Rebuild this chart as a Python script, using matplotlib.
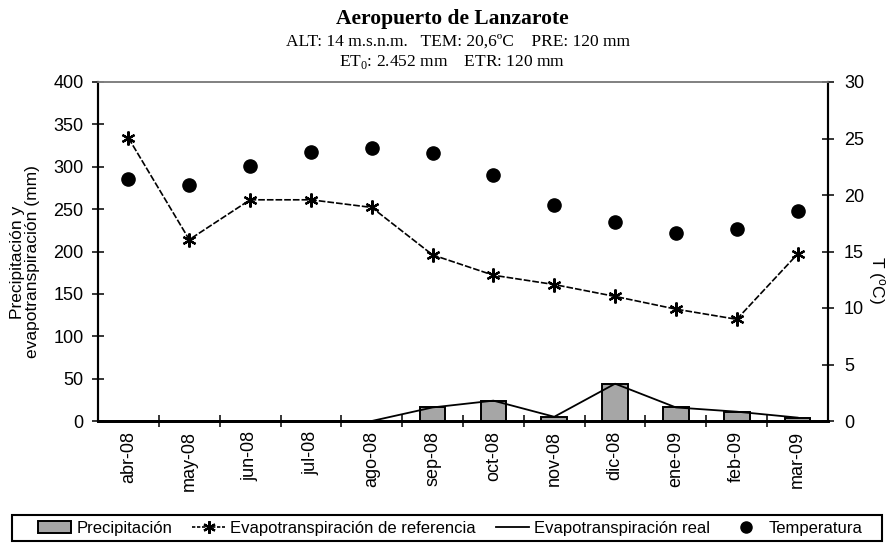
import matplotlib
matplotlib.use("Agg")
import matplotlib.pyplot as plt
from matplotlib.lines import Line2D
from matplotlib.patches import Patch, Rectangle
import numpy as np

months = ["abr-08", "may-08", "jun-08", "jul-08", "ago-08", "sep-08",
          "oct-08", "nov-08", "dic-08", "ene-09", "feb-09", "mar-09"]
precip = [0, 0, 0, 0, 0, 16, 24, 5, 44, 16, 11, 4]
et0 = [334, 214, 261, 261, 252, 196, 172, 161, 147, 132, 120, 197]
etr = [0, 0, 0, 0, 0, 16, 24, 5, 44, 16, 11, 4]
temp = [21.4, 20.9, 22.6, 23.8, 24.2, 23.7, 21.8, 19.1, 17.6, 16.6, 17.0, 18.6]

yticks_left = [0, 50, 100, 150, 200, 250, 300, 350, 400]
yticks_right = [0, 5, 10, 15, 20, 25, 30]

plt.rcParams['font.family'] = ['Liberation Sans', 'DejaVu Sans']

W, H = 891, 544
fig = plt.figure(figsize=(W / 100, H / 100), dpi=100)
ax = fig.add_axes([98 / W, 1 - 421 / H, (828 - 98) / W, (421 - 82) / H])
ax2 = ax.twinx()

x = np.arange(len(months))
ax.bar(x, precip, width=0.42, color='#a6a6a6', edgecolor='black', linewidth=1.4, zorder=2)
ax.plot(x, etr, color='black', linewidth=1.3, zorder=3)
ax.plot(x, et0, color='black', linewidth=1.2, dashes=(4, 1.2), marker=(6, 2, 0),
        markersize=10, markeredgewidth=1.6, markeredgecolor='black', zorder=4)
ax2.plot(x, temp, linestyle='none', marker='o', markersize=9.5, color='black', zorder=5)

ax.set_xlim(-0.5, len(months) - 0.5)
ax.set_ylim(0, 400)
ax2.set_ylim(0, 30)
ax.set_yticks(yticks_left)
ax2.set_yticks(yticks_right)

ax.set_xticks(np.arange(0.5, len(months) - 1, 1.0))
ax.set_xticklabels([])
ax.set_xticks(x, minor=True)
ax.set_xticklabels(months, minor=True, rotation=90, fontsize=13)
ax.tick_params(axis='x', which='major', direction='inout', length=9, width=1.1)
ax.tick_params(axis='x', which='minor', length=0, pad=7)
ax.tick_params(axis='y', direction='inout', length=9, width=1.1, labelsize=13, pad=6)
ax2.tick_params(axis='y', direction='inout', length=9, width=1.1, labelsize=13, pad=7)

for a in (ax, ax2):
    a.spines['top'].set_color('#808080')
    a.spines['top'].set_linewidth(1.2)
    a.spines['left'].set_linewidth(1.5)
    a.spines['right'].set_linewidth(1.5)
    a.spines['bottom'].set_linewidth(2.0)

fig.text(25 / W, 1 - 262 / H, "Precipitación y\nevapotranspiración (mm)", rotation=90,
         ha='center', va='center', fontsize=12.5, linespacing=1.0)
fig.text(877 / W, 1 - 280 / H, r"T ($\mathregular{^o}$C)", rotation=-90,
         ha='center', va='center', fontsize=12.5)

serif = ['Liberation Serif', 'DejaVu Serif']
fig.text(452 / W, 1 - 19 / H, "Aeropuerto de Lanzarote", ha='center', va='center',
         fontsize=15.5, fontweight='bold', family=serif)
fig.text(458 / W, 1 - 42 / H, "ALT: 14 m.s.n.m.   TEM: 20,6ºC    PRE: 120 mm", ha='center', va='center',
         fontsize=12.5, family=serif)
fig.text(452 / W, 1 - 62 / H, r"ET$_\mathregular{0}$: 2.452 mm    ETR: 120 mm", ha='center', va='center',
         fontsize=12.5, family=serif)

fig.add_artist(Rectangle((12 / W, 1 - 541 / H), (882 - 12) / W, 26 / H,
                         transform=fig.transFigure, facecolor='none',
                         edgecolor='black', linewidth=1.5))
handles = [
    Patch(facecolor='#a6a6a6', edgecolor='black', linewidth=1.4),
    Line2D([], [], color='black', linewidth=1.2, dashes=(2, 1), marker=(6, 2, 0),
           markersize=9, markeredgewidth=1.6),
    Line2D([], [], color='black', linewidth=1.3),
    Line2D([], [], linestyle='none', marker='o', markersize=8, color='black'),
]
labels = ["Precipitación", "Evapotranspiración de referencia", "Evapotranspiración real", "Temperatura"]
leg = fig.legend(handles, labels, loc='center left', ncol=4, mode='expand',
                 bbox_to_anchor=(38 / W, 1 - 541 / H, (862 - 38) / W, 26 / H),
                 fontsize=12, frameon=False,
                 handlelength=2.0, handletextpad=0.3, borderaxespad=0, borderpad=0)

fig.savefig("out.png", dpi=100)
